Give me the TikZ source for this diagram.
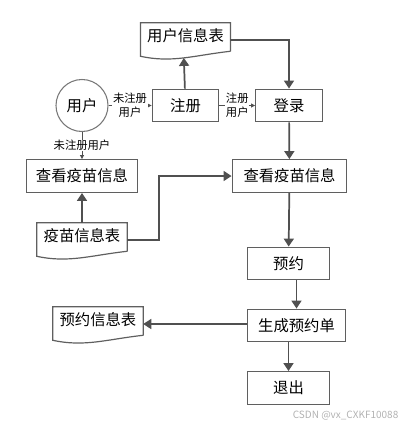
\documentclass[tikz,border=0pt]{standalone}
\usepackage{fontspec}
\setmainfont{Noto Sans CJK SC}
\usetikzlibrary{arrows.meta,calc}
\definecolor{linegray}{RGB}{80,80,80}
\definecolor{boxgray}{RGB}{95,95,95}
\definecolor{circgray}{RGB}{120,120,120}
\tikzset{
  box/.style={draw=boxgray, line width=0.9pt, minimum height=24.5pt, inner sep=2pt,
    font=\fontsize{11.5}{13}\selectfont},
  doc/.style={minimum height=19.5pt, inner sep=2pt, font=\fontsize{11.5}{13}\selectfont},
  docline/.style={draw=boxgray, line width=0.9pt},
  person/.style={draw=circgray, circle, minimum size=39pt, line width=0.8pt,
    font=\fontsize{11.5}{13}\selectfont},
  flow/.style={-{Triangle[length=6pt,width=7.5pt]}, line width=1.3pt, draw=linegray},
  hint/.style={-{Triangle[length=3pt,width=3pt]}, line width=0.6pt, draw=linegray},
  cond/.style={font=\fontsize{8.5}{10.5}\selectfont, align=center, fill=white, inner sep=0.5pt},
  wmark/.style={font=\fontsize{7.5}{9}\selectfont, text=black!30, anchor=east}
}
% document outline with a wavy bottom
\newcommand\docshape[1]{%
  \draw[docline] ($(#1.south east)+(0,2)$) -- (#1.north east) -- (#1.north west)
    -- ($(#1.south west)+(0,7)$)
    .. controls ($(#1.south west)!0.35!(#1.south east)+(0,14)$)
    and ($(#1.south west)!0.6!(#1.south east)+(0,6)$)
    .. coordinate[pos=0.5] (#1-wave) ($(#1.south east)+(0,2)$);
  \coordinate (#1-r) at ($(#1.east)+(0,4)$);}

\begin{document}
\begin{tikzpicture}[x=0.75pt,y=-0.75pt]
  \useasboundingbox (0,0) rectangle (405,429);
  \node[doc, minimum width=67pt] (usertab) at (185.5,36) {用户信息表};
  \node[person] (user) at (82,105.5) {用户};
  \node[box, minimum width=50pt] (reg) at (185.5,105.5) {注册};
  \node[box, minimum width=50pt] (login) at (289,105.5) {登录};
  \node[box, minimum width=83pt] (viewl) at (82,176) {查看疫苗信息};
  \node[box, minimum width=86pt] (viewr) at (289.5,176) {查看疫苗信息};
  \node[doc, minimum width=67.5pt] (vactab) at (82,236) {疫苗信息表};
  \node[box, minimum width=62pt] (book) at (288.5,263.5) {预约};
  \node[box, minimum width=74pt] (gen) at (296.5,325.5) {生成预约单};
  \node[box, minimum width=62pt] (quit) at (288.5,388) {退出};
  \node[doc, minimum width=67.5pt] (ordertab) at (98,320) {预约信息表};
  \docshape{usertab} \docshape{vactab} \docshape{ordertab}

  \draw[hint] (user) -- node[cond] {未注册\\用户} (reg);
  \draw[hint] (reg) -- node[cond] {注册\\用户} (login);
  \draw[hint] (user) -- node[cond] {未注册用户} (viewl);

  \draw[flow] (reg) -- (usertab-wave);
  \draw[flow] (usertab-r) -| (login);
  \draw[flow] (login) -- (viewr);
  \draw[flow] (vactab) -- (viewl);
  \draw[flow] (vactab-r) -- ++(32,0) |- (viewr);
  \draw[flow] (viewr) -- (book);
  \draw[flow] (book.south -| gen.north) -- (gen);
  \draw[flow] (gen.south -| quit.north) -- (quit);
  \draw[flow] (gen.west |- ordertab-r) -- (ordertab-r);

  \node[wmark] (wm) at (403,416) {CSDN @vx\_CXKF10088};
\end{tikzpicture}
\end{document}
